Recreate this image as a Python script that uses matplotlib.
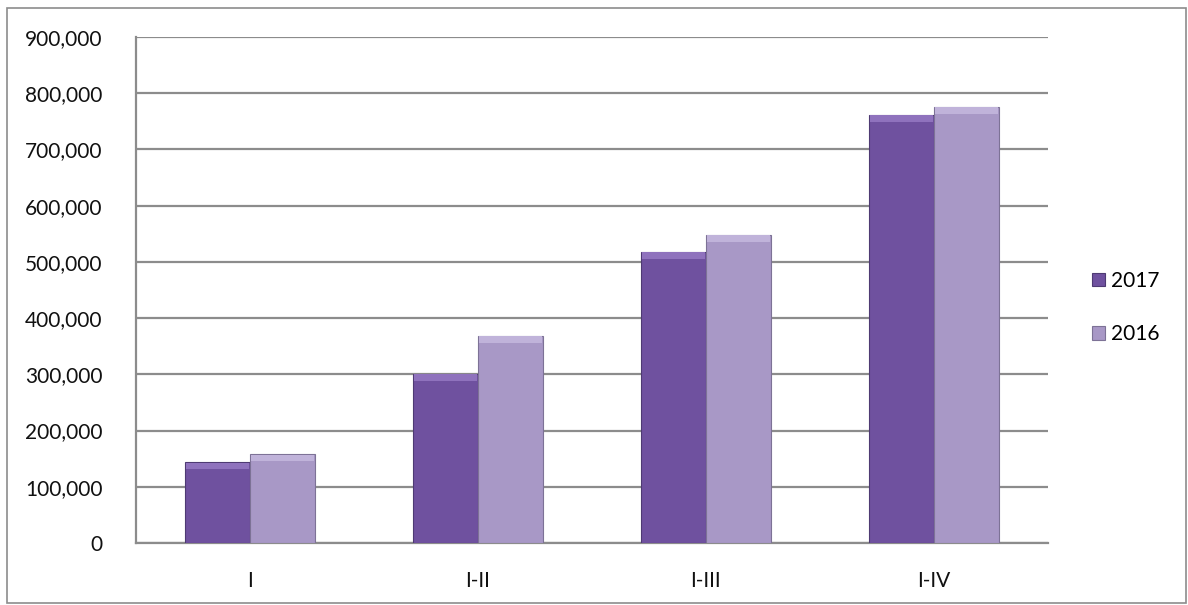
import matplotlib.pyplot as plt
import numpy as np
from matplotlib.patches import Rectangle
from matplotlib.ticker import FuncFormatter

categories = ["I", "I-II", "I-III", "I-IV"]
series_names = ["2017", "2016"]
values_2017 = [144000, 301000, 518000, 762000]
values_2016 = [158000, 369000, 548000, 776000]

colors = ["#6f519f", "#a898c6"]
tops = ["#8f72bd", "#c0b3da"]
edges = ["#4e3a73", "#7d7296"]

plt.rcParams['font.family'] = ['Lato', 'DejaVu Sans']

fig = plt.figure(figsize=(11.88, 6.05), dpi=100)
ax = fig.add_axes([0.1145, 0.1025, 0.7675, 0.8363])

x = np.arange(len(categories))
w = 0.285
for i, vals in enumerate([values_2017, values_2016]):
    pos = x + (i - 0.5) * w
    ax.bar(pos, vals, w, color=colors[i], edgecolor=edges[i], linewidth=0.8,
           label=series_names[i], zorder=3)
    # bevel highlight at the top of each bar
    ax.bar(pos, [12000] * len(vals), w * 0.97, bottom=np.array(vals) - 13000,
           color=tops[i], linewidth=0, zorder=4)

ax.set_xlim(-0.5, len(categories) - 0.5)
ax.set_ylim(0, 900000)
ax.set_yticks(np.arange(0, 900001, 100000))
ax.yaxis.set_major_formatter(FuncFormatter(lambda v, p: f"{int(v):,}"))
ax.set_xticks(x)
ax.set_xticklabels(categories)
ax.tick_params(length=0, labelsize=15, colors="#111111")
ax.tick_params(axis='y', pad=24)
ax.tick_params(axis='x', pad=20)
ax.grid(axis='y', color="#8c8c8c", linewidth=1.6, zorder=0)
for s in ["top", "right"]:
    ax.spines[s].set_visible(False)
for s in ["left", "bottom"]:
    ax.spines[s].set_color("#8c8c8c")
    ax.spines[s].set_linewidth(1.6)

ax.legend(loc="center left", bbox_to_anchor=(1.028, 0.465), frameon=False,
          fontsize=15, handlelength=0.6, handleheight=0.6, handletextpad=0.3,
          labelspacing=1.6)

fig.patches.append(Rectangle((0.006, 0.003), 0.992, 0.984, transform=fig.transFigure,
                             fill=False, edgecolor="#8c8c8c", linewidth=1.2))

fig.savefig("out.png", dpi=100)
